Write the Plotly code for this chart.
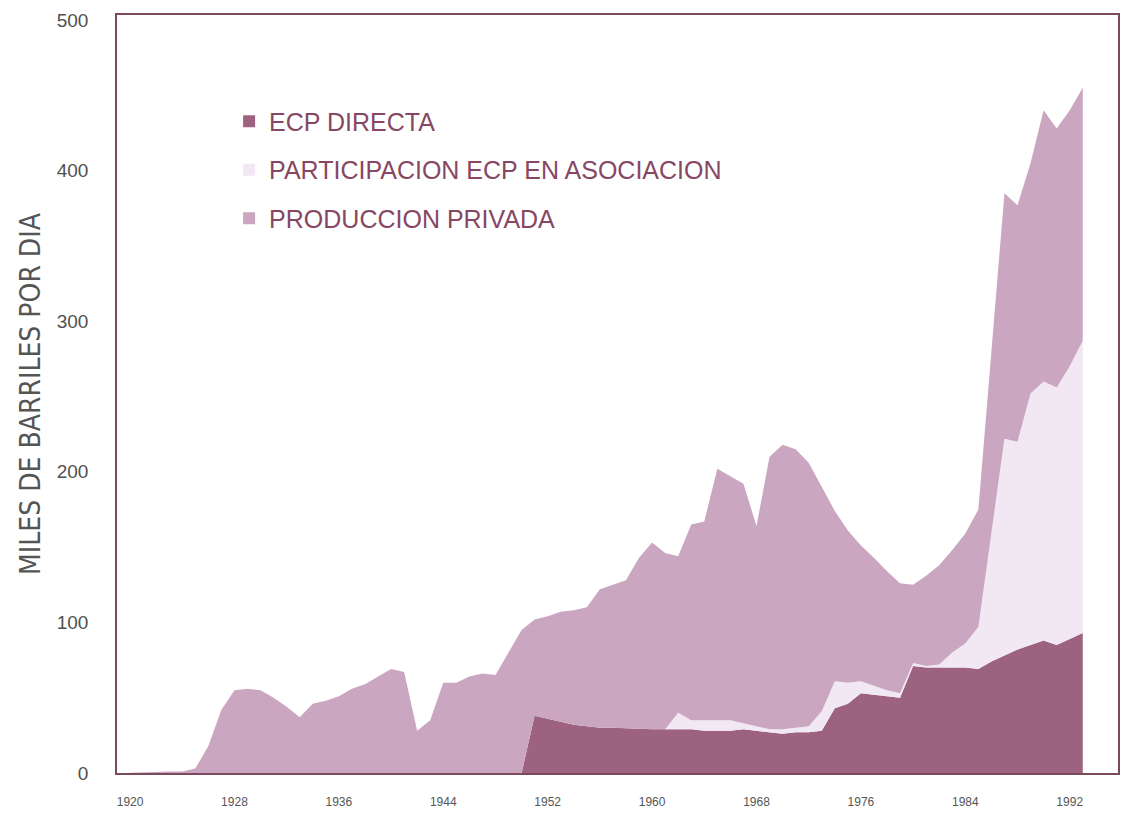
import plotly.graph_objects as go

years = list(range(1920, 1994))

# ECP DIRECTA (miles de barriles por dia)
ecp_directa = [0]*30 + [0, 38, 36, 34, 32, 31, 30, 30, 29.5, 29, 29,
                        29, 29, 29, 28, 28, 28, 29, 28, 27, 26,
                        27, 27, 28, 43, 46, 53, 52, 51, 50, 71,
                        70, 70, 70, 70, 69, 74, 78, 82, 85, 88,
                        85, 89, 93]

# top of ECP + participation (cumulative)
top_asociacion = [0]*30 + [0, 38, 36, 34, 32, 31, 30, 30, 29.5, 29, 29,
                           29, 40, 35, 35, 35, 35, 33, 31, 29, 29,
                           30, 31, 41, 61, 60, 61, 58, 55, 53, 73,
                           71, 72, 80, 86, 97, 160, 222, 220, 252, 260,
                           256, 270, 287]

# total production (top of stack)
total = [0.2, 0.5, 1, 1, 1, 3, 18, 42, 55, 56,
         55, 50, 44, 37, 46, 48, 51, 56, 59, 64,
         69, 67, 28, 35, 60, 60, 64, 66, 65, 80,
         95, 102, 104, 107, 108, 110, 122, 125, 128, 143,
         153, 146, 144, 165, 167, 202, 197, 192, 164, 210,
         218, 215, 206, 190, 174, 161, 151, 143, 134, 126,
         125, 131, 138, 148, 159, 175, 280, 385, 377, 405,
         440, 428, 440, 455]

participacion = [round(a - d, 1) for a, d in zip(top_asociacion, ecp_directa)]
privada = [round(t - a, 1) for t, a in zip(total, top_asociacion)]

series_names = ["ECP DIRECTA", "PARTICIPACION ECP EN ASOCIACION", "PRODUCCION PRIVADA"]
series_values = [ecp_directa, participacion, privada]
series_colors = ["#9c627f", "#f1e8f4", "#caa6c0"]

x_ticks = list(range(1920, 1993, 8))
y_ticks = [0, 100, 200, 300, 400, 500]

fig = go.Figure()
for i, (name, vals, col) in enumerate(zip(series_names, series_values, series_colors)):
    fig.add_trace(go.Scatter(
        x=years, y=vals, name=name, mode="lines",
        stackgroup="one", line=dict(width=0, color=col),
        fillcolor=col, showlegend=False,
    ))
# legend swatches (square markers, legend only)
for i, (name, col) in enumerate(zip(series_names, series_colors)):
    fig.add_trace(go.Scatter(
        x=[None], y=[None], name=name, mode="markers",
        marker=dict(symbol="square", size=16, color=col),
        legendgroup=f"g{i}", showlegend=True,
    ))

font_fam = "Liberation Sans, Arial, sans-serif"
fig.update_layout(
    width=1129, height=824,
    margin=dict(l=109, r=19, t=7, b=59),
    paper_bgcolor="white", plot_bgcolor="white",
    showlegend=True,
    legend=dict(
        x=0.112, y=0.89, xanchor="left", yanchor="top",
        bgcolor="rgba(0,0,0,0)", traceorder="grouped",
        font=dict(family=font_fam, size=25, color="#874763"),
        tracegroupgap=13, itemsizing="constant", itemwidth=30,
    ),
    xaxis=dict(
        range=[1919.0, 1995.7], tickvals=x_ticks,
        ticktext=[str(v) for v in x_ticks], automargin=False,
        showgrid=False, zeroline=False,
        showline=True, linecolor="#7a4b5c", linewidth=1.5, mirror=True,
        ticks="outside", ticklen=17, tickcolor="rgba(0,0,0,0)",
        tickfont=dict(family=font_fam, size=12, color="#555555"),
    ),
    yaxis=dict(
        range=[0, 503.3], tickvals=y_ticks, automargin=False,
        showgrid=False, zeroline=False,
        showline=True, linecolor="#7a4b5c", linewidth=1.5, mirror=True,
        ticks="outside", ticklen=23, tickcolor="rgba(0,0,0,0)",
        tickfont=dict(family=font_fam, size=19, color="#505050"),
        title=dict(text="MILES DE BARRILES POR DIA", standoff=8,
                   font=dict(family="Liberation Sans Narrow, DejaVu Sans Condensed, Arial Narrow, sans-serif",
                             size=28, color="#555555")),
    ),
)

fig.write_html("out.html")
